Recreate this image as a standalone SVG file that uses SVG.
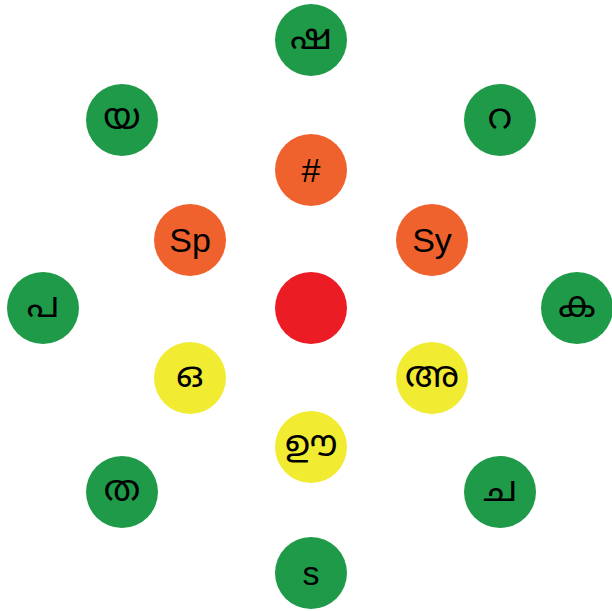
<svg xmlns="http://www.w3.org/2000/svg" width="612" height="611" viewBox="0 0 612 611">
<style>
.g{fill:#1f9a48}.o{fill:#f0622d}.r{fill:#ec1c24}.y{fill:#f1eb32}
text{font-family:"Noto Sans Malayalam","Liberation Sans","Noto Sans",sans-serif;font-size:36px;fill:#000;text-anchor:middle;dominant-baseline:central}
.l{font-family:"Liberation Sans",Arial,sans-serif;font-size:34px}
</style>
<rect width="612" height="611" fill="#fff"/>
<g id="center"><circle class="r" cx="311" cy="308" r="36"/></g>
<g id="hash"><circle class="o" cx="311" cy="170" r="36"/><text class="l" x="311" y="170">#</text></g>
<g id="sp"><circle class="o" cx="190" cy="240" r="36"/><text class="l" x="190" y="240">Sp</text></g>
<g id="sy"><circle class="o" cx="432" cy="240" r="36"/><text class="l" x="432" y="240">Sy</text></g>
<g id="o"><circle class="y" cx="190" cy="378" r="36"/><text x="190" y="378">ഒ</text></g>
<g id="a"><circle class="y" cx="432" cy="378" r="36"/><text x="432" y="378">അ</text></g>
<g id="uu"><circle class="y" cx="311" cy="447" r="36"/><text x="311" y="447">ഊ</text></g>
<g id="sha"><circle class="g" cx="311" cy="40" r="36"/><text x="311" y="40">ഷ</text></g>
<g id="ra"><circle class="g" cx="500" cy="120" r="36"/><text x="500" y="120">റ</text></g>
<g id="ka"><circle class="g" cx="577" cy="308" r="36"/><text x="577" y="308">ക</text></g>
<g id="ca"><circle class="g" cx="500" cy="492" r="36"/><text x="500" y="492">ച</text></g>
<g id="s"><circle class="g" cx="311" cy="573" r="36"/><text class="l" x="311" y="573">s</text></g>
<g id="ta"><circle class="g" cx="122" cy="492" r="36"/><text x="122" y="492">ത</text></g>
<g id="pa"><circle class="g" cx="43" cy="308" r="36"/><text x="43" y="308">പ</text></g>
<g id="ya"><circle class="g" cx="122" cy="120" r="36"/><text x="122" y="120">യ</text></g>
<g id="connectors"/>
</svg>
